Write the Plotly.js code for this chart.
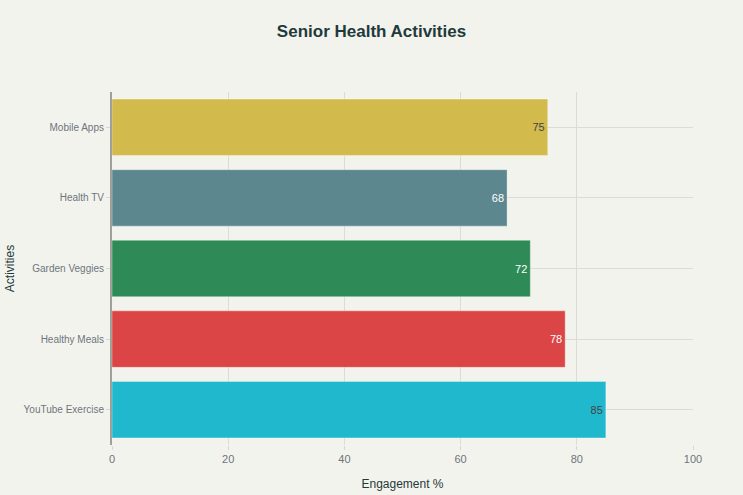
<!DOCTYPE html>
<html><head><meta charset="utf-8">
<script src="https://cdn.plot.ly/plotly-3.0.1.min.js"></script>
<style>html,body{margin:0;padding:0;background:#F3F3EE;}</style>
</head><body>
<div id="chart" style="width:743px;height:495px;"></div>
<script>
const activities = ["YouTube Exercise", "Healthy Meals", "Garden Veggies", "Health TV", "Mobile Apps"];
const engagement = [85, 78, 72, 68, 75];
const barColors = ["#1FB8CD", "#DB4545", "#2E8B57", "#5D878F", "#D2BA4C"];
const xTicks = [0, 20, 40, 60, 80, 100];

const fontFam = "'Liberation Sans', Arial, sans-serif";
Plotly.newPlot("chart", [{
  type: "bar",
  orientation: "h",
  y: activities,
  x: engagement,
  text: engagement.map(String),
  textposition: "inside",
  insidetextanchor: "end",
  textfont: {size: 11, family: fontFam},
  marker: {color: barColors, line: {width: 1, color: "rgba(255,255,255,0.35)"}},
  cliponaxis: false,
  hoverinfo: "none"
}], {
  width: 743, height: 495,
  paper_bgcolor: "#F3F3EE",
  plot_bgcolor: "#F3F3EE",
  font: {family: fontFam, color: "#6E757C", size: 10},
  title: {text: "<b>Senior Health Activities</b>", x: 0.5, xanchor: "center", y: 0.95, font: {size: 17, color: "#1E3A3A", family: fontFam}},
  margin: {l: 112, r: 50, t: 92, b: 50},
  bargap: 0.2,
  showlegend: false,
  xaxis: {
    range: [0, 100], tickvals: xTicks, ticks: "outside", ticklen: 4, tickcolor: "#D8D8D2",
    showgrid: true, gridcolor: "#DCDCD6", zeroline: false, showline: false,
    tickfont: {size: 11, color: "#6E757C"},
    title: {text: "Engagement %", font: {size: 12, color: "#1E3A3A"}, standoff: 15}
  },
  yaxis: {
    ticks: "outside", ticklen: 4, tickcolor: "#D8D8D2",
    showgrid: true, gridcolor: "#DCDCD6",
    showline: true, linecolor: "#A0A09A", linewidth: 2,
    tickfont: {size: 10, color: "#6E757C"},
    title: {text: "Activities", font: {size: 12, color: "#1E3A3A"}, standoff: 6}
  }
}, {displayModeBar: false, staticPlot: true});
</script>
</body></html>
